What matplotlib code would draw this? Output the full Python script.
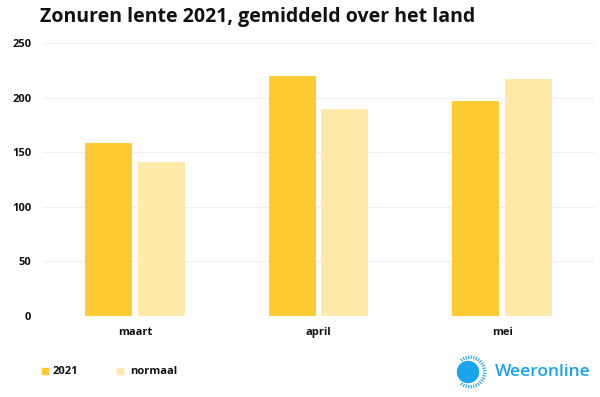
import numpy as np
import matplotlib.pyplot as plt
from matplotlib.patches import Circle, Rectangle

# data
months = ["maart", "april", "mei"]
zon_2021 = [158, 220, 197]
zon_normaal = [141, 190, 217]
y_ticks = [0, 50, 100, 150, 200, 250]

col_2021 = "#FECB33"
col_norm = "#FFE9AB"
blue = "#1AA3EA"

W, H = 600, 397
fig = plt.figure(figsize=(6, 3.97), dpi=100)
plt.rcParams["font.family"] = ["Open Sans", "DejaVu Sans"]

def fx(px):
    return px / W

def fy(py):
    return 1 - py / H

ax = fig.add_axes([fx(43), fy(316), fx(594) - fx(43), fy(43) - fy(316)])
x = np.arange(len(months))
bw = 0.256
off = 0.144
ax.bar(x - off, zon_2021, bw, color=col_2021, zorder=2)
ax.bar(x + off, zon_normaal, bw, color=col_norm, zorder=2)

ax.set_xlim(-0.5, 2.5)
ax.set_ylim(0, 250)
ax.set_yticks(y_ticks)
ax.set_xticks(x)
ax.set_xticklabels(months)
ax.grid(axis="y", color="#f0f0f0", linewidth=0.8, zorder=0)
for s in ax.spines.values():
    s.set_visible(False)
ax.tick_params(length=0)
ax.tick_params(axis="y", pad=8.5)
ax.tick_params(axis="x", pad=8)
for lab in ax.get_xticklabels() + ax.get_yticklabels():
    lab.set_fontweight("bold")
    lab.set_fontsize(8)
    lab.set_color("#111111")

fig.text(fx(40), fy(17), "Zonuren lente 2021, gemiddeld over het land",
         fontsize=14, fontweight="bold", color="#111111", va="center", ha="left")

# legend
ly = 371
fig.patches.append(Rectangle((fx(42), fy(ly + 3)), fx(6), 6 / H, color=col_2021,
                             transform=fig.transFigure, figure=fig))
fig.text(fx(53), fy(ly), "2021", fontsize=8, fontweight="bold", va="center", color="#111111")
fig.patches.append(Rectangle((fx(117), fy(ly + 3)), fx(6), 6 / H, color=col_norm,
                             transform=fig.transFigure, figure=fig))
fig.text(fx(130), fy(ly), "normaal", fontsize=8, fontweight="bold", va="center", color="#111111")

# logo
lax = fig.add_axes([0, 0, 1, 1], facecolor="none")
lax.set_xlim(0, W)
lax.set_ylim(H, 0)
lax.axis("off")
lax.add_patch(Circle((468, 372), 10.5, color=blue))
for a in np.linspace(-125, 125, 26):
    r = np.deg2rad(a)
    cx, cy = 470, 372
    lax.plot([cx + 13 * np.cos(r), cx + 16.5 * np.cos(r)],
             [cy + 13 * np.sin(r), cy + 16.5 * np.sin(r)],
             color=blue, linewidth=0.8, solid_capstyle="butt")
lax.text(495, 372, "Weeronline", fontsize=12.5, color=blue, va="center", ha="left",
         fontweight="semibold")

fig.savefig("out.png", dpi=100)
